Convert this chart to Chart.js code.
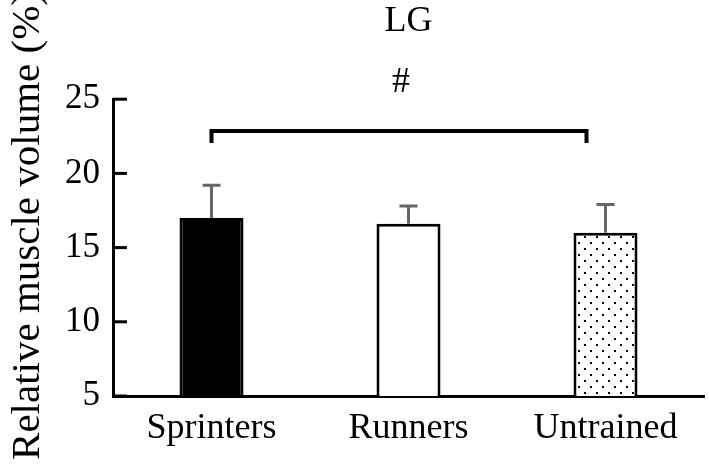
<!DOCTYPE html>
<html>
<head>
<meta charset="utf-8">
<script src="https://cdn.jsdelivr.net/npm/chart.js@4/dist/chart.umd.min.js"></script>
<style>
  html, body { margin: 0; padding: 0; background: #fff; }
  #wrap { width: 709px; height: 464px; }
</style>
</head>
<body>
<div id="wrap"><canvas id="chart" width="709" height="464"></canvas></div>
<script>
// values
const categories = ["Sprinters", "Runners", "Untrained"];
const means = [17.0, 16.6, 16.0];
const errUpper = [19.2, 17.8, 17.9];
const yMin = 5, yMax = 25, yStep = 5;
const sigPair = [0, 2];
const sigLevel = 22.85;
const sigLabel = "#";
const titleText = "LG";
const yTitle = "Relative muscle volume (%)";

const serif = "'Liberation Serif', 'Times New Roman', serif";

// dotted fill for the untrained bar
function dotPattern() {
  const c = document.createElement("canvas");
  c.width = 12; c.height = 12;
  const g = c.getContext("2d");
  g.fillStyle = "#fff";
  g.fillRect(0, 0, 12, 12);
  g.fillStyle = "#000";
  g.fillRect(2, 2, 2, 2);
  g.fillRect(8, 8, 2, 2);
  return g.createPattern(c, "repeat");
}

const ctx = document.getElementById("chart").getContext("2d");

const extras = {
  id: "extras",
  afterDatasetsDraw(chart) {
    const c = chart.ctx;
    const y = chart.scales.y;
    const meta = chart.getDatasetMeta(0);
    c.save();

    // error bars
    c.strokeStyle = "#666";
    c.lineWidth = 3;
    meta.data.forEach((bar, i) => {
      const top = y.getPixelForValue(errUpper[i]);
      const base = y.getPixelForValue(means[i]);
      c.beginPath();
      c.moveTo(bar.x, base);
      c.lineTo(bar.x, top);
      c.moveTo(bar.x - 9, top);
      c.lineTo(bar.x + 9, top);
      c.stroke();
    });

    // inward y ticks
    const area = chart.chartArea;
    c.strokeStyle = "#000";
    c.lineWidth = 3;
    for (let v = yMin; v <= yMax; v += yStep) {
      const py = y.getPixelForValue(v);
      c.beginPath();
      c.moveTo(area.left, py);
      c.lineTo(area.left + 14, py);
      c.stroke();
    }

    // significance bracket (right end sits a little left of the bar centre)
    const x0 = meta.data[sigPair[0]].x;
    const x1 = meta.data[sigPair[1]].x - 19;
    const by = y.getPixelForValue(sigLevel);
    c.lineWidth = 4;
    c.beginPath();
    c.moveTo(x0, by + 12);
    c.lineTo(x0, by);
    c.lineTo(x1, by);
    c.lineTo(x1, by + 12);
    c.stroke();

    c.fillStyle = "#000";
    c.font = "36px " + serif;
    c.textAlign = "center";
    c.textBaseline = "middle";
    c.fillText(sigLabel, (x0 + x1) / 2 + 2, y.getPixelForValue(26.1));

    // y title
    c.translate(39, 226);
    c.rotate(-Math.PI / 2);
    c.textBaseline = "alphabetic";
    c.font = "41px " + serif;
    c.fillText(yTitle, 0, 0);
    c.restore();
  }
};

new Chart(ctx, {
  type: "bar",
  data: {
    labels: categories,
    datasets: [{
      data: means,
      backgroundColor: ["#000", "#fff", dotPattern()],
      borderColor: "#000",
      borderWidth: 3,
      categoryPercentage: 1,
      barPercentage: 0.325
    }]
  },
  options: {
    responsive: false,
    animation: false,
    layout: { padding: { top: 0, right: 5, left: 0, bottom: 0 } },
    plugins: {
      legend: { display: false },
      tooltip: { enabled: false },
      title: {
        display: true,
        text: titleText,
        fullSize: false,
        color: "#000",
        font: { family: serif, size: 36, weight: "normal", lineHeight: 1.2 },
        padding: { top: 0, bottom: 56 }
      }
    },
    scales: {
      x: {
        grid: { display: false, drawTicks: false },
        border: { display: true, color: "#000", width: 3 },
        ticks: {
          color: "#000",
          padding: 11,
          font: { family: serif, size: 36 }
        },
        afterFit(scale) { scale.height = 68; }
      },
      y: {
        min: yMin,
        max: yMax,
        grid: { display: false, drawTicks: false },
        border: { display: true, color: "#000", width: 3 },
        ticks: {
          stepSize: yStep,
          color: "#000",
          padding: 13,
          font: { family: serif, size: 35 }
        },
        afterFit(scale) { scale.width = 113; }
      }
    }
  },
  plugins: [extras]
});
</script>
</body>
</html>
